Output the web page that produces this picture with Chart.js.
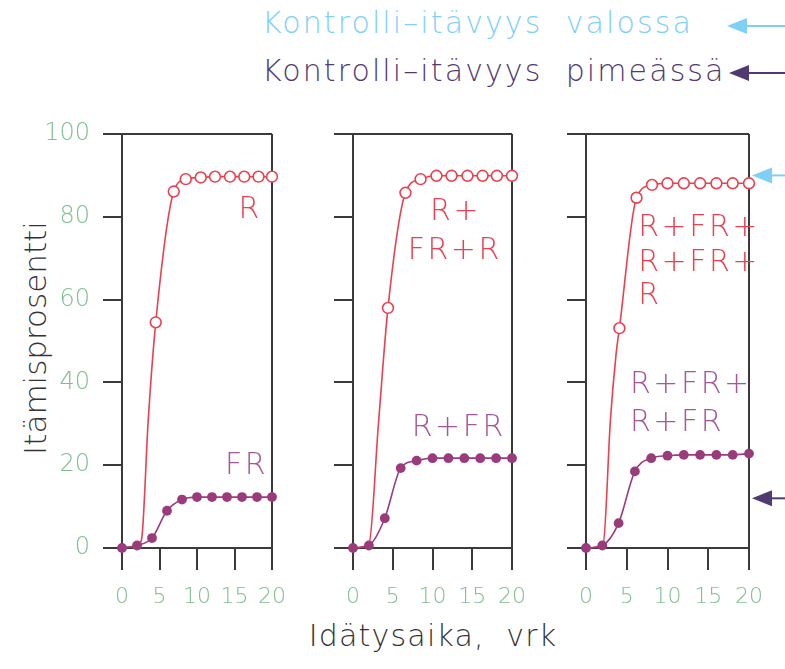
<!DOCTYPE html>
<html>
<head>
<meta charset="utf-8">
<script src="https://cdn.jsdelivr.net/npm/chart.js@4/dist/chart.umd.min.js"></script>
<style>
  html, body { margin: 0; padding: 0; background: #fff; }
  body { width: 785px; height: 669px; position: relative; overflow: hidden;
         font-family: 'DejaVu Sans', sans-serif; font-weight: 200; }
  .cv { position: absolute; top: 100px; height: 569px; }
  .txt { position: absolute; white-space: pre; line-height: 1; }
  #hdr1 { left: 262px; top: 8px; font-size: 30px; color: #7fd0f6; letter-spacing: 2.1px; }
  #hdr2 { left: 262px; top: 56px; font-size: 30px; color: #4f3b70; letter-spacing: 2.1px; }
  #ytitle { left: 35px; top: 338px; font-size: 31px; color: #333;
            transform: translate(-50%, -50%) rotate(-90deg); }
  #xtitle { left: 433px; top: 636px; font-size: 30px; color: #333; letter-spacing: 1.2px;
            transform: translate(-50%, -50%); }
  svg { position: absolute; left: 0; top: 0; }
</style>
</head>
<body>
<div class="txt" id="hdr1">Kontrolli–itävyys  valossa</div>
<div class="txt" id="hdr2">Kontrolli–itävyys  pimeässä</div>
<div class="txt" id="ytitle">Itämisprosentti</div>
<div class="txt" id="xtitle">Idätysaika,  vrk</div>
<svg width="785" height="100">
  <line x1="742" y1="26" x2="785" y2="26" stroke="#7fd0f6" stroke-width="2"/>
  <polygon points="727,26 747,18 747,34" fill="#7fd0f6"/>
  <line x1="744" y1="73" x2="785" y2="73" stroke="#4f3b70" stroke-width="2"/>
  <polygon points="729,73 749,65 749,81" fill="#4f3b70"/>
</svg>
<canvas id="c1" class="cv" style="left:0px;width:300px" width="300" height="569"></canvas>
<canvas id="c2" class="cv" style="left:300px;width:240px" width="240" height="569"></canvas>
<canvas id="c3" class="cv" style="left:540px;width:245px" width="245" height="569"></canvas>
<script>
// itämis-% päivinä 0..20 (pimeä FR-sarjat mitattu joka toinen päivä)
const days = [0, 2, 4, 6, 8, 10, 12, 14, 16, 18, 20];
const xTicks = [0, 5, 10, 15, 20];
const yTicks = [0, 20, 40, 60, 80, 100];

// paneeli 1: R / FR
const r1LeadDays = [0, 2, 2.6, 3.5];
const r1Lead     = [0, 0.5, 2, 31];
const r1Days = [4.5, 6.9, 8.5, 10.5, 12.4, 14.4, 16.3, 18.2, 20];
const r1     = [54.5, 86.1, 89.1, 89.5, 89.7, 89.7, 89.7, 89.7, 89.7];
const fr1 = [0, 0.6, 2.4, 9.0, 11.7, 12.3, 12.3, 12.3, 12.3, 12.3, 12.3];

// paneeli 2: R+FR+R / R+FR
const r2LeadDays = [0, 2, 3.2];
const r2Lead     = [0, 1, 30];
const r2Days = [4.4, 6.6, 8.5, 10.5, 12.4, 14.4, 16.3, 18.1, 20];
const r2     = [58, 85.8, 89.1, 89.9, 89.9, 89.9, 89.9, 89.9, 89.9];
const fr2 = [0, 0.6, 7.2, 19.3, 21.1, 21.7, 21.7, 21.7, 21.7, 21.7, 21.7];

// paneeli 3: R+FR+R+FR+R / R+FR+R+FR
const r3LeadDays = [0, 2.1, 3, 3.7];
const r3Lead     = [0, 1, 31, 47];
const r3Days = [4.1, 6.2, 8.1, 10, 12, 14, 16, 18, 20];
const r3     = [53.1, 84.6, 87.7, 88.1, 88.1, 88.1, 88.1, 88.1, 88.1];
const fr3 = [0, 0.6, 6.0, 18.5, 21.7, 22.3, 22.5, 22.5, 22.5, 22.5, 22.8];

// kontrollit (nuolet oikealla)
const controlLight = 90;
const controlDark = 12;

const RED = '#e9414f';
const PURPLE = '#9a3c7b';
const PURPLE_TXT = '#a65896';
const GREEN = '#7fbf8e';
const AXIS = '#3a3a3a';
const FONT = "'DejaVu Sans', sans-serif";

const pts = (xs, ys) => xs.map((x, i) => ({ x, y: ys[i] }));

/* tekstit kuvan sisällä, sijainti data-yksiköissä */
function labelPlugin(labels) {
  return {
    id: 'labels',
    afterDatasetsDraw(chart) {
      const { ctx, scales: sc } = chart;
      ctx.save();
      ctx.font = '200 30px ' + FONT;
      ctx.textBaseline = 'middle';
      if ('letterSpacing' in ctx) ctx.letterSpacing = '2.5px';
      labels.forEach((l) => {
        ctx.fillStyle = l.color;
        ctx.textAlign = l.align || 'center';
        ctx.fillText(l.text, sc.x.getPixelForValue(l.x), sc.y.getPixelForValue(l.y));
      });
      ctx.restore();
    },
  };
}

/* kontrolli-itävyyden nuolet paneelin oikealla puolella */
const arrowPlugin = {
  id: 'arrows',
  afterDraw(chart) {
    const { ctx, chartArea, scales: sc, width } = chart;
    [[controlLight, '#7fd0f6'], [controlDark, '#4f3b70']].forEach(([v, c]) => {
      const y = sc.y.getPixelForValue(v);
      const tip = chartArea.right + 3;
      ctx.save();
      ctx.fillStyle = c; ctx.strokeStyle = c; ctx.lineWidth = 2;
      ctx.beginPath(); ctx.moveTo(tip + 16, y); ctx.lineTo(width, y); ctx.stroke();
      ctx.beginPath(); ctx.moveTo(tip, y); ctx.lineTo(tip + 20, y - 8); ctx.lineTo(tip + 20, y + 8); ctx.closePath(); ctx.fill();
      ctx.restore();
    });
  },
};

function panel(id, { leadDays, lead, rDays, r, fr, yWidth, padRight, showY, labels, extra = [] }) {
  const curve = pts(leadDays.concat(rDays), lead.concat(r));
  return new Chart(document.getElementById(id), {
    type: 'line',
    data: {
      datasets: [
        { data: pts(days, fr), borderColor: PURPLE, backgroundColor: PURPLE, borderWidth: 1.6,
          pointRadius: 4.9, pointBorderWidth: 0, cubicInterpolationMode: 'monotone', order: 0, clip: false },
        { data: pts(rDays, r), showLine: false, borderColor: RED, backgroundColor: '#fff',
          pointRadius: 5.4, pointBorderWidth: 1.6, order: 1, clip: false },
        { data: curve, borderColor: RED, borderWidth: 1.6, pointRadius: 0,
          cubicInterpolationMode: 'monotone', order: 2, clip: false },
      ],
    },
    options: {
      responsive: false, animation: false,
      layout: { padding: { top: 34, right: padRight, bottom: 41, left: 0 } },
      plugins: { legend: { display: false }, tooltip: { enabled: false } },
      scales: {
        x: {
          type: 'linear', min: 0, max: 20,
          afterBuildTicks: (s) => { s.ticks = xTicks.map((v) => ({ value: v })); },
          afterFit: (s) => { s.height = 80; },
          grid: { color: (c) => (c.tick && c.tick.value === 20 ? AXIS : 'rgba(0,0,0,0)'),
                  tickColor: AXIS, tickLength: 22, lineWidth: 2 },
          border: { color: AXIS, width: 2 },
          ticks: { color: GREEN, padding: 14, maxRotation: 0, font: { family: FONT, size: 22, weight: 200 } },
        },
        y: {
          min: 0, max: 100,
          afterBuildTicks: (s) => { s.ticks = yTicks.map((v) => ({ value: v })); },
          afterFit: (s) => { s.width = yWidth; },
          grid: { color: (c) => (c.tick && c.tick.value === 100 ? AXIS : 'rgba(0,0,0,0)'),
                  tickColor: AXIS, tickLength: 19, lineWidth: 2 },
          border: { color: AXIS, width: 2 },
          ticks: { display: showY, color: GREEN, padding: 13, font: { family: FONT, size: 24, weight: 200 } },
        },
      },
    },
    plugins: [labelPlugin(labels)].concat(extra),
  });
}

panel('c1', {
  leadDays: r1LeadDays, lead: r1Lead, rDays: r1Days, r: r1, fr: fr1,
  yWidth: 122, padRight: 15, showY: true,
  labels: [
    { text: 'R', x: 17.1, y: 81.6, color: RED },
    { text: 'FR', x: 16.6, y: 19.8, color: PURPLE_TXT },
  ],
});
panel('c2', {
  leadDays: r2LeadDays, lead: r2Lead, rDays: r2Days, r: r2, fr: fr2,
  yWidth: 53, padRight: 23, showY: false,
  labels: [
    { text: 'R+', x: 12.9, y: 81.2, color: RED },
    { text: 'FR+R', x: 12.8, y: 71.7, color: RED },
    { text: 'R+FR', x: 13.3, y: 28.9, color: PURPLE_TXT },
  ],
});
panel('c3', {
  leadDays: r3LeadDays, lead: r3Lead, rDays: r3Days, r: r3, fr: fr3,
  yWidth: 46, padRight: 36, showY: false,
  labels: [
    { text: 'R+FR+', x: 6.4, y: 77.3, color: RED, align: 'left' },
    { text: 'R+FR+', x: 6.4, y: 68.7, color: RED, align: 'left' },
    { text: 'R', x: 6.4, y: 60.9, color: RED, align: 'left' },
    { text: 'R+FR+', x: 5.4, y: 39.4, color: PURPLE_TXT, align: 'left' },
    { text: 'R+FR', x: 5.4, y: 30.1, color: PURPLE_TXT, align: 'left' },
  ],
  extra: [arrowPlugin],
});
</script>
</body>
</html>
